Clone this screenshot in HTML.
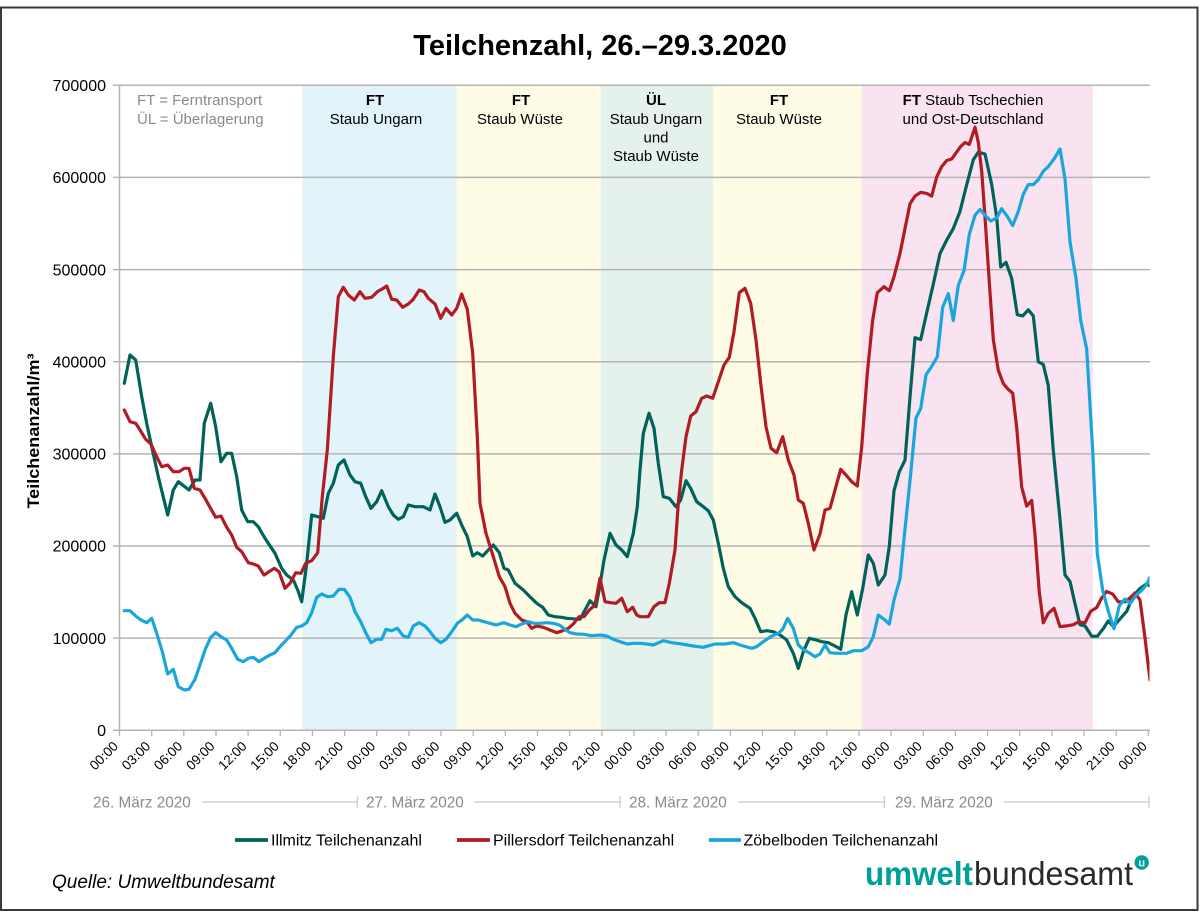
<!DOCTYPE html>
<html><head><meta charset="utf-8"><style>
html,body{margin:0;padding:0;background:#fff;}
svg{display:block;font-family:"Liberation Sans",Arial,sans-serif;}
</style></head><body>
<svg width="1200" height="913" viewBox="0 0 1200 913" xmlns="http://www.w3.org/2000/svg">
<rect x="0" y="0" width="1200" height="913" fill="#fff"/>
<rect x="1" y="7.5" width="1196.5" height="902.5" fill="none" stroke="#3a3a3a" stroke-width="2"/>
<text x="600" y="55" font-size="29" font-weight="bold" text-anchor="middle" fill="#000">Teilchenzahl, 26.–29.3.2020</text>
<!-- bands -->
<rect x="302.3" y="85" width="154.4" height="645" fill="#e2f3fa"/>
<rect x="456.7" y="85" width="144" height="645" fill="#fffce6"/>
<rect x="600.7" y="85" width="112.6" height="645" fill="#e5f2ec"/>
<rect x="713.3" y="85" width="148.4" height="645" fill="#fffce6"/>
<rect x="861.7" y="85" width="231" height="645" fill="#f9e3f0"/>
<!-- gridlines -->
<g stroke="#b4b4b4" stroke-width="1.5">
<line x1="113" y1="85.3" x2="1150" y2="85.3"/>
<line x1="113" y1="177.4" x2="1150" y2="177.4"/>
<line x1="113" y1="269.6" x2="1150" y2="269.6"/>
<line x1="113" y1="361.7" x2="1150" y2="361.7"/>
<line x1="113" y1="453.9" x2="1150" y2="453.9"/>
<line x1="113" y1="546.0" x2="1150" y2="546.0"/>
<line x1="113" y1="638.1" x2="1150" y2="638.1"/>
<line x1="113" y1="730.3" x2="1150" y2="730.3"/>
<line x1="119.5" y1="85" x2="119.5" y2="730.3"/>
</g>
<!-- y labels -->
<g font-size="16" text-anchor="end" fill="#000">
<text x="106" y="91">700000</text>
<text x="106" y="183.1">600000</text>
<text x="106" y="275.3">500000</text>
<text x="106" y="367.4">400000</text>
<text x="106" y="459.6">300000</text>
<text x="106" y="551.7">200000</text>
<text x="106" y="643.8">100000</text>
<text x="106" y="736">0</text>
</g>
<text transform="translate(39,431) rotate(-90)" font-size="16.5" font-weight="bold" text-anchor="middle" textLength="155" lengthAdjust="spacingAndGlyphs">Teilchenanzahl/m³</text>
<!-- notes -->
<g font-size="15" fill="#8a8a8a">
<text x="137" y="105">FT = Ferntransport</text>
<text x="137" y="124">ÜL = Überlagerung</text>
</g>
<g font-size="15" text-anchor="middle" fill="#000">
<text x="375" y="105" font-weight="bold">FT</text>
<text x="376" y="124">Staub Ungarn</text>
<text x="521" y="105" font-weight="bold">FT</text>
<text x="520" y="124">Staub Wüste</text>
<text x="656" y="105" font-weight="bold">ÜL</text>
<text x="656" y="124">Staub Ungarn</text>
<text x="656" y="142.5">und</text>
<text x="656" y="161">Staub Wüste</text>
<text x="779" y="105" font-weight="bold">FT</text>
<text x="779" y="124">Staub Wüste</text>
<text x="973" y="105"><tspan font-weight="bold">FT</tspan> Staub Tschechien</text>
<text x="973" y="124">und Ost-Deutschland</text>
</g>
<!-- series -->
<defs><clipPath id="pc"><rect x="119" y="80" width="1030.5" height="660"/></clipPath></defs>
<g fill="none" stroke-width="3.2" stroke-linejoin="round" stroke-linecap="round" clip-path="url(#pc)">
<polyline stroke="#00625a" points="124.3,383.3 130,355 135.7,360 141.7,396.7 146.7,423.3 151.7,446.7 158.3,476.7 167.7,515 173.3,490 178.3,481.7 189,490 195,480 200,480 204.3,423.3 210.7,403.3 215.7,426.7 221,461.7 226.7,453.3 231.7,453.3 236.7,476.7 241.7,510 247.7,521.7 253.3,521.7 258.3,526.7 265,538.3 275,553.3 281.7,568.3 286.7,575 293.3,580 297.7,590 301.7,601.7 306.7,563.3 311.7,515 317.7,516.7 323.3,518.3 328.3,493.3 333.3,483.3 338.3,465 344,460 350,475 355,481.7 360.7,483.3 365.7,496.7 371,508.3 376.7,501.7 381.7,490.7 388.3,506.7 393.3,515 398.3,519.3 403.3,516.7 408.3,505 415,506.7 423.3,506.7 430,510 435,494 440,506.7 445,522.3 450,520 456.7,513.3 461.7,525 467.3,536.7 472.7,556 477.3,552.7 482.7,556 488.3,550 493.3,545 499.3,552.7 504,568.3 508.3,570 515,583.3 523.3,590 530,596.7 536.7,603.3 542.7,607.3 548.3,615 555,616.7 561.7,617.3 566.7,618.3 580,619.3 585,610 590,600.7 596,606.7 600,585 604,560 610,533.3 616,545 621.7,550 627.3,556.7 633.3,533.3 637.3,506.7 640,470 643.3,433.3 649,413.3 654,428.3 658.3,463.3 663.3,496.7 669.3,498.3 676,506.7 680.7,500 686,480.7 690.7,488.3 696.7,501.7 703.3,506.7 708.3,510.7 713.3,520 718.3,543.3 723.3,568.3 728.3,586.7 735,596.7 741.7,602.7 750,608.3 755,618.3 760.7,631.7 766.7,630.7 773.3,631.7 780,635 786.7,640 793.3,653.3 798.3,668.3 803.3,651.7 809.3,638.3 816,640 821.7,641.7 828.3,642.7 835,646 840.7,649.3 846,615 851.7,591.7 857.3,615 862.7,588.3 868.3,555 873.3,563.3 878.3,585 885,575 889.3,546.3 894,490.8 899.3,471.7 905,460.2 910,397 915,337.7 920.7,339.6 926.7,312.8 933.3,284.1 940,253.5 946.7,240.1 953.3,228.6 960,211.4 966.7,184.6 973.3,159.8 978.3,152.1 985,154 991.7,184.6 996.7,217.2 1000.7,266.9 1006,262.3 1011.7,278.4 1017.3,314.7 1022.7,315.9 1028.3,309.8 1033.3,315.9 1038.3,361.8 1043.3,364.5 1048.3,385.5 1053.3,450.6 1060,519.5 1065,575 1070,581.5 1075,603.7 1080,624.7 1085,625.9 1091.7,636.2 1097.3,636.2 1103.3,628.6 1108.3,620.9 1113.3,626.6 1120,619 1126.7,611.3 1133.3,596 1140,588.4 1146.7,583.8 1150,586"/>
<polyline stroke="#b11b23" points="124.3,410 130,421.7 135.7,423.3 140,430 145.7,439.3 151,444 156.7,456.7 161.7,466.7 167.7,465 173.3,471.7 179,471.7 184.3,468.3 189,468.3 194.3,488.3 200,490 205,498.3 210,507.3 215.7,517.3 221,516 226.7,527.3 231.7,535 236.7,547.3 241.7,551.7 248.3,562.7 253.3,564 258.3,566 264,575 269,571.7 274.3,568.3 279,571.7 285,588.3 290,583.3 295.7,572.7 301,573.3 305.7,563.3 311.7,560.7 317.7,552.7 322.3,496.7 327.3,450 333.3,356.7 338.3,296.7 343.3,287.3 348.3,295 354.3,300 360,291.7 365,298.3 371.7,297.3 377.3,291.7 383.3,288.3 386.7,286 391.7,299.3 396.7,300 402.7,307.3 408.3,304 413.3,299.3 419.3,290 424,291.7 428.3,298.3 435,304 440.7,318.3 446,308.3 451.7,315 456.7,308.3 461.7,294 467.3,309.3 472.7,353.3 477.3,436.7 480,503.3 486,533.3 493.3,556.7 499.3,576.7 505,586.7 510,603.3 515,613.3 521.7,620 526.7,621.7 531.7,628.3 536.7,626 543.3,627.3 550,630 556.7,632.7 562.7,630.7 568.3,628.3 573.3,624 579,616.7 584,616.7 589.3,610 595,605 600,578.3 605,601.7 610.7,602.7 616,603.3 621.7,598.3 627.3,611.7 632.7,607.3 636.7,615 640,616.7 648.3,616.7 654,606.7 659.3,602.7 665,602.7 669.3,583.3 675,550 678.3,503.3 681.7,470 686,436.7 690.7,416 696,411.7 701.7,398.3 706.7,396 712.7,398.3 718.3,381.7 724,365 729.3,357.3 734,331.7 739.3,292.7 745,288.3 750.7,303.3 756,340 760.7,383.3 766,426.7 771,448.3 776.7,452.7 782.7,436.7 788.3,460 794,475 798.3,500 803.3,503.3 808.3,523.3 814,550 820,534 825,510 830,508.3 835,490 840.7,469.3 846,475 851.7,481.7 857.3,486 861.7,446.7 867.3,373.3 872.7,320 877.3,292.7 884,286.7 889.3,290.7 894,276.7 900,253.5 905,228.6 910,203.8 915,196.1 920.7,192.3 926.7,193.4 931.7,196.1 936.7,177 941.7,166.6 946.7,160.5 951.7,159 956,152.9 960.7,146.4 965,142.5 969.3,144.4 975,127.2 978.3,142.5 981.7,171.2 985,217.2 989.3,282.2 993.3,339.6 998.3,370.2 1003.3,383.6 1008.3,389.4 1012.7,393.2 1016.7,427.6 1021.7,487 1026.7,506.1 1031.7,500.4 1035,534.8 1039.3,592.2 1043.3,622.8 1048.3,613.3 1054,608.3 1060,626.6 1066.7,625.9 1073.3,624.7 1078.3,622 1085,622.8 1090.7,611.3 1096.7,607.5 1101.7,597.9 1106.7,591.4 1112.7,594.1 1118.3,601.8 1125,601.8 1130,597.9 1135,593 1140,599.9 1145,638.1 1150,680"/>
<polyline stroke="#19a6dc" points="124.3,610.7 130,610.7 135.7,616 141,620 146.7,622.7 151.7,618.3 156.7,633.3 162.3,651.7 167.7,674 173.3,669.3 178.3,686.7 184.3,690 189,689.3 195,679.3 200,665 205,650 210.7,637.3 215.7,632.7 221,636.7 226.7,640 231.7,648.3 237.7,659.3 243.3,661.7 248.3,658.3 253.3,657.3 259,661.7 264.3,658.3 270,655 275,652.7 280,646.7 285.7,640.7 291,635 296.7,627.3 301.7,626 306.7,622.7 311.7,612.7 316.7,597.3 321.7,594 327.7,596.7 333.3,596 339,589.3 344.3,589.3 350,597.3 355,611.7 360.7,621.7 365.7,632.7 371,642.7 376.7,639.3 381.7,639.3 386,629.3 391.7,630.7 397.3,628.3 403.3,636 408.3,637.3 413.3,626 419.3,622.7 425,626 430,631.7 435,638.3 440.7,642.7 446,639.3 451.7,631.7 457.3,623.3 462.7,619.3 467.3,615 472.7,620 478.3,620 484,621.7 490,623.3 496,625 504,622.7 510,625 516,626.7 521.7,624 528.3,621.7 534,623.3 540,623.3 546,622.7 553.3,623.3 559.3,625 565,629.3 570,632.7 576.7,634 584,634.3 591.7,635.7 600,635 606.7,636 613.3,639.3 620,641.7 627.3,644 633.3,643.3 640,643.3 646.7,644 653.3,645 663.3,640.7 671.7,642.7 681.7,644 693.3,646 703.3,647.3 715,644 725,644 733.3,642.7 743.3,646 751.7,648.3 756.7,646.7 763.3,641.7 771.7,636 778.3,633.3 782.7,629.3 787.7,618.3 793.3,628.3 798.3,645 804,650 810,653.3 815,656.7 820,654 825,645 830,652.7 836.7,653.3 846.7,653.3 853.3,650.7 861.7,650.7 868.3,646.7 873.3,636.7 878.3,615 884,619.3 889.3,624 894,600 900,578.8 905,529.1 910.7,473.6 916,418.1 920.7,408.5 926,374.8 931.7,366.4 937.3,356.8 942.7,307.1 948.3,293.7 953.3,320.5 958.3,285.3 964,270.7 969.3,234.4 975,215.2 980,209.5 985,215.2 990.7,221 996.7,217.9 1001.7,208.7 1007.3,216.4 1012.7,225.6 1018.3,211.4 1023.3,194.2 1028.3,184.6 1033.3,184.6 1038.3,179.7 1043.3,171.2 1048.3,166.6 1054,159 1060,149 1065,178.9 1070,242 1076,278.4 1080.7,320.5 1086.7,349.2 1092.7,450.6 1097.3,553.9 1102.7,590.3 1108.3,611.3 1114,628.6 1119.3,605.6 1125,599.1 1130,603.7 1136,595.3 1141.7,590.3 1146.7,584.5 1150,577"/>
</g>
<!-- x ticks -->
<g stroke="#b4b4b4" stroke-width="1.3">
<line x1="119.5" y1="730" x2="119.5" y2="736"/><line x1="151.7" y1="730" x2="151.7" y2="736"/><line x1="183.8" y1="730" x2="183.8" y2="736"/><line x1="216" y1="730" x2="216" y2="736"/><line x1="248.1" y1="730" x2="248.1" y2="736"/><line x1="280.3" y1="730" x2="280.3" y2="736"/><line x1="312.4" y1="730" x2="312.4" y2="736"/><line x1="344.6" y1="730" x2="344.6" y2="736"/><line x1="376.7" y1="730" x2="376.7" y2="736"/><line x1="408.9" y1="730" x2="408.9" y2="736"/><line x1="441" y1="730" x2="441" y2="736"/><line x1="473.2" y1="730" x2="473.2" y2="736"/><line x1="505.3" y1="730" x2="505.3" y2="736"/><line x1="537.5" y1="730" x2="537.5" y2="736"/><line x1="569.6" y1="730" x2="569.6" y2="736"/><line x1="601.8" y1="730" x2="601.8" y2="736"/><line x1="633.9" y1="730" x2="633.9" y2="736"/><line x1="666.1" y1="730" x2="666.1" y2="736"/><line x1="698.2" y1="730" x2="698.2" y2="736"/><line x1="730.4" y1="730" x2="730.4" y2="736"/><line x1="762.5" y1="730" x2="762.5" y2="736"/><line x1="794.7" y1="730" x2="794.7" y2="736"/><line x1="826.8" y1="730" x2="826.8" y2="736"/><line x1="859" y1="730" x2="859" y2="736"/><line x1="891.1" y1="730" x2="891.1" y2="736"/><line x1="923.3" y1="730" x2="923.3" y2="736"/><line x1="955.4" y1="730" x2="955.4" y2="736"/><line x1="987.6" y1="730" x2="987.6" y2="736"/><line x1="1019.7" y1="730" x2="1019.7" y2="736"/><line x1="1051.9" y1="730" x2="1051.9" y2="736"/><line x1="1084" y1="730" x2="1084" y2="736"/><line x1="1116.2" y1="730" x2="1116.2" y2="736"/><line x1="1148.3" y1="730" x2="1148.3" y2="736"/>
</g>
<g font-size="13.5" text-anchor="end" fill="#000">
<text transform="translate(119,747) rotate(-45)">00:00</text>
<text transform="translate(151.2,747) rotate(-45)">03:00</text>
<text transform="translate(183.3,747) rotate(-45)">06:00</text>
<text transform="translate(215.5,747) rotate(-45)">09:00</text>
<text transform="translate(247.6,747) rotate(-45)">12:00</text>
<text transform="translate(279.8,747) rotate(-45)">15:00</text>
<text transform="translate(311.9,747) rotate(-45)">18:00</text>
<text transform="translate(344.1,747) rotate(-45)">21:00</text>
<text transform="translate(376.2,747) rotate(-45)">00:00</text>
<text transform="translate(408.4,747) rotate(-45)">03:00</text>
<text transform="translate(440.5,747) rotate(-45)">06:00</text>
<text transform="translate(472.7,747) rotate(-45)">09:00</text>
<text transform="translate(504.8,747) rotate(-45)">12:00</text>
<text transform="translate(537,747) rotate(-45)">15:00</text>
<text transform="translate(569.1,747) rotate(-45)">18:00</text>
<text transform="translate(601.3,747) rotate(-45)">21:00</text>
<text transform="translate(633.4,747) rotate(-45)">00:00</text>
<text transform="translate(665.6,747) rotate(-45)">03:00</text>
<text transform="translate(697.7,747) rotate(-45)">06:00</text>
<text transform="translate(729.9,747) rotate(-45)">09:00</text>
<text transform="translate(762,747) rotate(-45)">12:00</text>
<text transform="translate(794.2,747) rotate(-45)">15:00</text>
<text transform="translate(826.3,747) rotate(-45)">18:00</text>
<text transform="translate(858.5,747) rotate(-45)">21:00</text>
<text transform="translate(890.6,747) rotate(-45)">00:00</text>
<text transform="translate(922.8,747) rotate(-45)">03:00</text>
<text transform="translate(954.9,747) rotate(-45)">06:00</text>
<text transform="translate(987.1,747) rotate(-45)">09:00</text>
<text transform="translate(1019.2,747) rotate(-45)">12:00</text>
<text transform="translate(1051.4,747) rotate(-45)">15:00</text>
<text transform="translate(1083.5,747) rotate(-45)">18:00</text>
<text transform="translate(1115.7,747) rotate(-45)">21:00</text>
<text transform="translate(1147.8,747) rotate(-45)">00:00</text>
</g>
<!-- date row -->
<g stroke="#c8c8c8" stroke-width="1.2">
<line x1="202" y1="802" x2="357.3" y2="802"/><line x1="357.3" y1="796" x2="357.3" y2="808"/>
<line x1="474" y1="802" x2="620" y2="802"/><line x1="620" y1="796" x2="620" y2="808"/>
<line x1="738" y1="802" x2="884.3" y2="802"/><line x1="884.3" y1="796" x2="884.3" y2="808"/>
<line x1="1004" y1="802" x2="1149" y2="802"/><line x1="1149" y1="796" x2="1149" y2="808"/>
</g>
<g font-size="15.3" fill="#8a8a8a">
<text x="93" y="807.5">26. März 2020</text>
<text x="366" y="807.5">27. März 2020</text>
<text x="629" y="807.5">28. März 2020</text>
<text x="895" y="807.5">29. März 2020</text>
</g>
<!-- legend -->
<g stroke-width="3.8">
<line x1="235" y1="840" x2="268" y2="840" stroke="#00625a"/>
<line x1="457" y1="840" x2="490" y2="840" stroke="#b11b23"/>
<line x1="709" y1="840" x2="741" y2="840" stroke="#19a6dc"/>
</g>
<g font-size="16" fill="#000">
<text x="271" y="845.5">Illmitz Teilchenanzahl</text>
<text x="493" y="845.5">Pillersdorf Teilchenanzahl</text>
<text x="743.5" y="845.5">Zöbelboden Teilchenanzahl</text>
</g>
<text x="52" y="888" font-size="19" font-style="italic" fill="#000">Quelle: Umweltbundesamt</text>
<!-- logo -->
<text x="865" y="885" font-size="33" font-weight="bold" fill="#00a09a" textLength="108" lengthAdjust="spacingAndGlyphs">umwelt</text>
<text x="974" y="885" font-size="33" fill="#2a2a2a" textLength="159" lengthAdjust="spacingAndGlyphs">bundesamt</text>
<circle cx="1141.7" cy="862.5" r="7.2" fill="#00a09a"/>
<text x="1141.7" y="866.3" font-size="11" font-weight="bold" fill="#fff" text-anchor="middle">u</text>
</svg>
</body></html>
